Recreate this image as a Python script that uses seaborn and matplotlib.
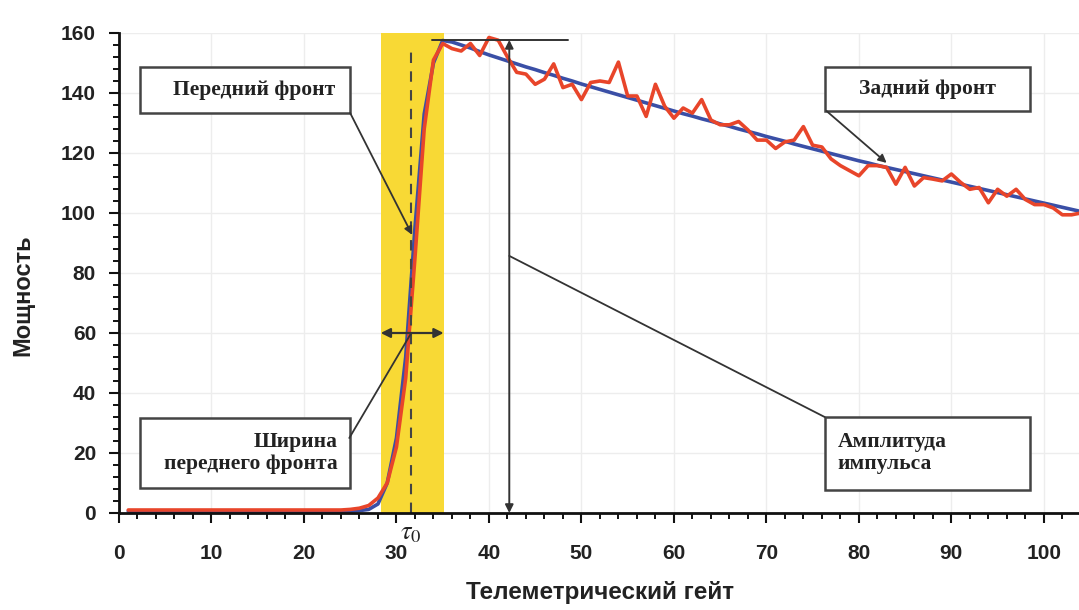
import numpy as np
import pandas as pd
import matplotlib
matplotlib.use("Agg")
import matplotlib.pyplot as plt
from matplotlib.patches import Rectangle
from matplotlib.ticker import MultipleLocator
import seaborn as sns

# ---- data ----
gates = list(range(1, 105))

red_power = [1.0] * 24 + [
    1.2, 1.6, 2.5, 5.0, 10.0, 22.0, 45.0, 85.0, 128.0, 151.0,          # 25-34
    156.5, 154.8, 154.0, 156.5, 152.5, 158.5, 157.6, 152.0, 146.9, 146.3,  # 35-44
    142.9, 144.6, 149.7, 141.8, 142.9, 137.8, 143.5, 144.0, 143.5, 150.3,  # 45-54
    139.0, 139.0, 132.2, 142.9, 135.6, 131.6, 135.0, 133.3, 137.8, 131.0,  # 55-64
    129.4, 129.4, 130.5, 127.7, 124.3, 124.3, 121.5, 123.7, 124.3, 128.8,  # 65-74
    122.6, 122.0, 118.0, 115.8, 114.1, 112.4, 115.8, 115.8, 115.2, 109.6,  # 75-84
    115.2, 109.0, 111.8, 111.3, 110.7, 113.0, 110.2, 107.9, 108.5, 103.4,  # 85-94
    107.9, 105.6, 107.9, 104.5, 102.8, 102.8, 101.7, 99.4, 99.4, 100.0,    # 95-104
]

blue_power = [0.6] * 24 + [
    0.6, 0.8, 1.2, 3.0, 10.0, 25.0, 52.0, 95.0, 133.0, 150.0,            # 25-34
    157.5, 157.0, 156.0, 155.0, 153.8, 152.7, 151.7, 150.7, 149.7, 148.7,  # 35-44
    147.8, 146.8, 145.9, 144.9, 144.0, 143.0, 142.1, 141.2, 140.3, 139.4,  # 45-54
    138.5, 137.6, 136.7, 135.8, 134.9, 134.0, 133.1, 132.3, 131.4, 130.6,  # 55-64
    129.7, 128.9, 128.0, 127.2, 126.4, 125.5, 124.7, 123.9, 123.0, 122.2,  # 65-74
    121.4, 120.6, 119.8, 119.0, 118.2, 117.4, 116.7, 115.9, 115.2, 114.5,  # 75-84
    113.8, 113.1, 112.4, 111.7, 111.0, 110.3, 109.6, 108.9, 108.2, 107.5,  # 85-94
    106.8, 106.1, 105.4, 104.7, 104.0, 103.3, 102.6, 101.9, 101.2, 100.5,  # 95-104
]

x_ticks = [0, 10, 20, 30, 40, 50, 60, 70, 80, 90, 100]
y_ticks = [0, 20, 40, 60, 80, 100, 120, 140, 160]

band = (28.3, 35.1)
tau0 = 31.6
width_level = 60.0
amp_x = 42.2
amp_top = 157.7
amp_line_end = 48.5
amp_line_start = 33.8

label_front = "Передний фронт"
label_width = "Ширина\nпереднего фронта"
label_back = "Задний фронт"
label_amp = "Амплитуда\nимпульса"
xlabel = "Телеметрический гейт"
ylabel = "Мощность"

# ---- style ----
sns.set_theme(style="white")
plt.rcParams["font.family"] = ["Liberation Sans", "DejaVu Sans"]
plt.rcParams["mathtext.fontset"] = "stix"

fig = plt.figure(figsize=(10.79, 6.10), dpi=100)
ax = fig.add_axes([119 / 1079, 97 / 610, 1 - 119 / 1079, (513 - 33) / 610])

df = pd.DataFrame({"gate": gates, "red": red_power, "blue": blue_power})

ax.axvspan(band[0], band[1], color="#f8d935", zorder=1, lw=0)
sns.lineplot(data=df, x="gate", y="blue", ax=ax, color="#3a4fa6", lw=2.6, zorder=3)
sns.lineplot(data=df, x="gate", y="red", ax=ax, color="#e8452a", lw=2.6, zorder=4)

ax.set_xlim(0, 103.8)
ax.set_ylim(0, 160)

ax.set_xticks(x_ticks)
ax.set_yticks(y_ticks)
ax.xaxis.set_minor_locator(MultipleLocator(2))
ax.yaxis.set_minor_locator(MultipleLocator(4))
ax.grid(True, which="major", color="#ededed", lw=1.0, zorder=0)
ax.set_axisbelow(True)

for s in ["top", "right"]:
    ax.spines[s].set_visible(False)
for s in ["left", "bottom"]:
    ax.spines[s].set_color("#111111")
    ax.spines[s].set_linewidth(2.0)
    ax.spines[s].set_zorder(6)

ax.tick_params(axis="both", which="both", bottom=True, left=True, top=False, right=False)
ax.tick_params(axis="both", which="major", direction="out", length=7.5, width=1.5,
               color="#111111", labelsize=15)
ax.tick_params(axis="both", which="minor", direction="out", length=4.5, width=1.4,
               color="#111111")
ax.tick_params(axis="x", which="major", pad=15)
ax.tick_params(axis="y", which="major", pad=9)
for lab in ax.get_xticklabels() + ax.get_yticklabels():
    lab.set_fontweight("bold")
    lab.set_color("#222222")

ax.set_xlabel(xlabel, fontsize=17.5, fontweight="bold", color="#222222")
ax.set_ylabel(ylabel, fontsize=17, fontweight="bold", color="#222222")
ax.xaxis.set_label_coords(0.501, -0.142)
ax.yaxis.set_label_coords(-0.088, 0.454)

# dashed tau0 line
ax.plot([tau0, tau0], [0, 155], ls=(0, (5, 4)), color="#444444", lw=1.5, zorder=5)
ax.text(tau0, -2.6, r"$\tau_{\mathit{0}}$", ha="center", va="top", fontsize=19,
        color="#222222", clip_on=False)

# width double arrow
ax.annotate("", xy=(band[0], width_level), xytext=(band[1], width_level),
            arrowprops=dict(arrowstyle="<|-|>", color="#333333", lw=1.6,
                            mutation_scale=14, shrinkA=0, shrinkB=0), zorder=6)

# amplitude double arrow and top line
ax.plot([amp_line_start, amp_line_end], [amp_top, amp_top], color="#333333", lw=1.4, zorder=6)
ax.annotate("", xy=(amp_x, 0), xytext=(amp_x, amp_top),
            arrowprops=dict(arrowstyle="<|-|>", color="#333333", lw=1.4,
                            mutation_scale=12, shrinkA=0, shrinkB=0), zorder=6)

serif = ["Liberation Serif", "DejaVu Serif"]


def box(x0, x1, y0, y1):
    ax.add_patch(Rectangle((x0, y0), x1 - x0, y1 - y0, facecolor="white",
                           edgecolor="#444444", lw=1.8, zorder=7))


# boxes
box(2.3, 25.0, 133.3, 148.7)
ax.text(14.6, 141.0, label_front, ha="center", va="center", fontsize=15.5,
        fontweight="bold", family=serif, color="#222222", zorder=8)

box(2.3, 25.0, 8.3, 31.7)
ax.text(23.6, 20.0, label_width, ha="right", va="center", multialignment="right",
        fontsize=15.5, fontweight="bold", family=serif, color="#222222", zorder=8,
        linespacing=1.1)

box(76.3, 98.5, 134.0, 148.7)
ax.text(87.4, 141.3, label_back, ha="center", va="center", fontsize=15.5,
        fontweight="bold", family=serif, color="#222222", zorder=8)

box(76.3, 98.5, 7.7, 32.0)
ax.text(77.7, 20.0, label_amp, ha="left", va="center", multialignment="left",
        fontsize=15.5, fontweight="bold", family=serif, color="#222222", zorder=8,
        linespacing=1.1)

# connectors
ax.annotate("", xy=(31.7, 92.7), xytext=(25.0, 133.3),
            arrowprops=dict(arrowstyle="-|>", color="#333333", lw=1.3,
                            mutation_scale=12, shrinkA=0, shrinkB=0), zorder=8)
ax.plot([24.9, tau0], [25.0, width_level], color="#333333", lw=1.3, zorder=8)
ax.annotate("", xy=(83.0, 116.7), xytext=(76.5, 134.0),
            arrowprops=dict(arrowstyle="-|>", color="#333333", lw=1.3,
                            mutation_scale=12, shrinkA=0, shrinkB=0), zorder=8)
ax.plot([76.3, amp_x], [32.0, 85.7], color="#333333", lw=1.3, zorder=8)

fig.savefig("out.png", dpi=100)
